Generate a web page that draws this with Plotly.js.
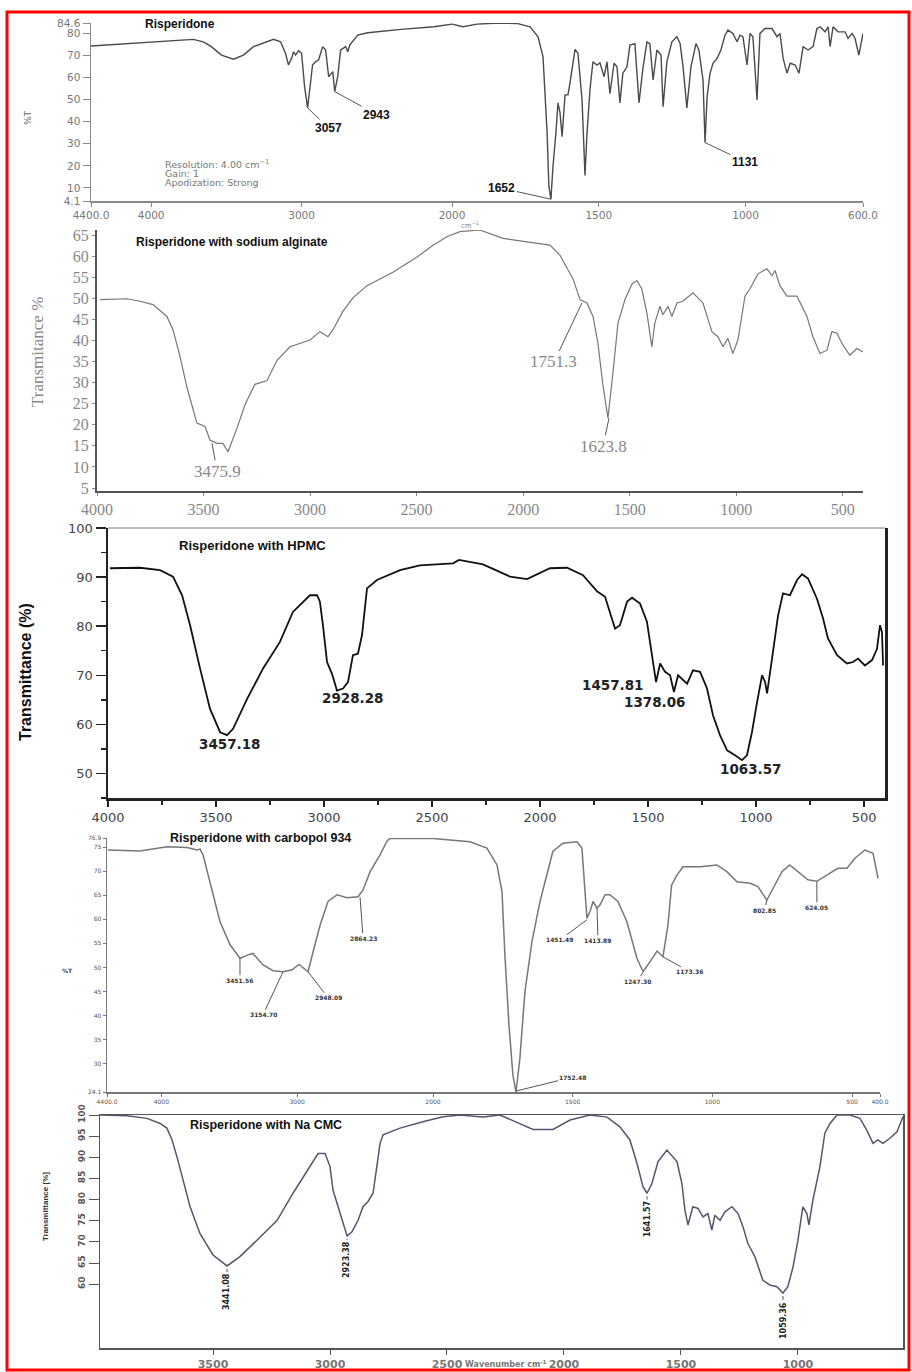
<!DOCTYPE html>
<html><head><meta charset="utf-8">
<script src="https://cdn.plot.ly/plotly-3.0.1.min.js"></script>
<style>html,body{margin:0;padding:0;background:#fff}#chart{width:912px;height:1372px}</style>
</head><body><div id="chart"></div>
<script>
// ---------- Panel 1: Risperidone ----------
const risWn = [4400,4000,3720,3653,3600,3533,3453,3387,3320,3187,3140,3107,3087,3067,3053,3040,3020,3000,2980,2960,2940,2927,2907,2887,2860,2840,2820,2793,2780,2760,2740,2707,2693,2680,2627,2560,2340,2120,2000,
1963,1915,1837,1779,1734,1707,1690,1676,1670,1663,1656,1646,1639,1632,1625,1615,1605,1598,1581,1571,1557,1547,1540,1530,1520,1506,1496,1482,1472,1462,1448,1438,1428,1418,1404,1394,1377,1363,1349,1336,1326,1315,1302,1288,1281,1268,1251,1234,1223,1213,1200,1186,1169,1159,1145,1138,1131,1121,1111,1097,1084,1070,1060,1043,1029,1019,1009,995,985,975,961,951,934,910,893,883,872,859,848,831,818,804,787,770,757,746,729,719,712,702,685,661,651,637,627,614,600];
const risT = [74.2,75.8,77.2,76.1,73.9,70.1,68.2,70.1,73.9,77.2,76.1,70.9,65.6,68.6,71.6,70.1,72.0,70.9,55.8,46.2,57.5,65.6,67.1,67.9,73.9,72.4,60.3,62.6,53.6,60.3,72.4,73.9,71.6,74.6,79.1,80.2,81.7,82.9,84.1,
82.9,84.1,84.6,84.4,82.9,78.4,69.4,35.0,10.7,4.9,19.8,35.0,48.5,44.0,33.2,52.1,52.1,57.5,72.7,70.9,49.8,15.6,35.0,54.4,67.1,65.6,66.6,60.3,67.1,52.6,66.4,64.8,48.5,61.9,64.8,74.6,75.3,48.5,64.8,76.1,75.3,58.9,72.4,70.1,46.7,67.1,76.1,78.4,75.3,64.8,46.2,64.8,75.3,72.4,58.9,30.5,51.3,61.9,66.4,68.6,72.4,79.1,81.4,79.9,76.1,79.1,78.4,65.6,79.9,78.4,49.8,79.9,82.1,82.1,78.4,79.9,68.6,61.9,66.4,65.6,61.9,73.9,72.4,73.9,82.1,82.9,80.6,82.9,73.9,82.9,80.6,80.6,77.6,79.9,77.6,70.1,79.9];
const risYTicks = [4.1,10,20,30,40,50,60,70,80,84.6];
const risYText = ['4.1','10','20','30','40','50','60','70','80','84.6'];
const risXHi = [4400,4000,3000,2000];
const risXHiText = ['4400.0','4000','3000','2000'];
const risXLo = [1500,1000,600];
const risXLoText = ['1500','1000','600.0'];

// ---------- Panel 2: with sodium alginate ----------
const algWn = [3985,3859,3798,3737,3672,3643,3610,3578,3531,3493,3470,3437,3409,3385,3343,3305,3259,3202,3155,3094,3000,2954,2916,2893,2846,2799,2733,2611,2498,2423,2358,2297,2203,2095,1982,1874,1827,1766,1733,1701,1672,1649,1626,1602,1579,1555,1522,1489,1466,1443,1419,1396,1382,1358,1344,1320,1302,1278,1250,1203,1156,1114,1086,1062,1039,1016,992,959,936,898,856,832,818,795,762,715,668,640,607,574,551,527,504,467,434,405];
const algT = [49.7,49.9,49.3,48.5,45.7,42.5,36.1,28.9,20.4,19.6,16.4,15.6,15.6,13.6,19.2,24.8,29.6,30.5,35.3,38.5,40.1,42.1,40.9,42.5,46.9,50.1,53.0,56.2,59.8,62.6,64.6,65.8,66.2,64.2,63.4,62.6,60.2,54.6,49.7,48.9,45.7,39.3,29.6,21.6,32.1,44.1,49.7,53.4,54.2,52.2,46.5,38.5,44.1,48.1,46.1,48.1,45.7,48.9,49.3,51.3,48.9,42.1,40.9,38.5,40.5,36.9,40.1,50.5,52.2,55.8,57.0,55.4,56.6,53.0,50.5,50.5,45.7,40.9,36.9,37.7,42.1,41.7,39.3,36.5,38.1,37.3];
const algYTicks = [5,10,15,20,25,30,35,40,45,50,55,60,65];
const algYText = ['5','10','15','20','25','30','35','40','45','50','55','60','65'];
const algXTicks = [4000,3500,3000,2500,2000,1500,1000,500];
const algXText = ['4000','3500','3000','2500','2000','1500','1000','500'];

// ---------- Panel 3: with HPMC ----------
const hpmcWn = [3991,3852,3759,3699,3657,3620,3574,3528,3481,3449,3421,3356,3282,3204,3144,3065,3032,3019,3005,2986,2963,2940,2912,2889,2866,2843,2824,2801,2755,2648,2556,2403,2375,2264,2139,2060,1954,1875,1801,1736,1699,1676,1653,1630,1597,1574,1537,1505,1481,1463,1444,1421,1398,1380,1361,1338,1319,1292,1259,1227,1199,1167,1134,1097,1065,1042,1019,995,972,958,949,926,898,875,843,810,787,759,718,690,667,625,579,551,528,496,463,440,426,417,412];
const hpmcT = [91.8,91.9,91.4,90.1,86.3,80.2,71.4,63.2,58.4,57.8,59.1,65.2,71.4,76.8,82.9,86.3,86.3,85.0,80.2,72.7,70.3,66.9,67.3,68.6,74.1,74.4,78.2,87.7,89.4,91.4,92.4,92.8,93.5,92.6,90.1,89.6,91.8,91.9,90.4,87.1,86.0,82.9,79.5,80.2,85.0,85.8,84.6,80.9,74.1,68.6,72.4,70.7,70.0,66.6,70.0,69.0,68.3,71.0,70.7,67.3,61.8,57.8,54.7,53.7,52.7,53.7,58.4,64.6,70.0,68.6,66.3,73.4,82.2,86.7,86.3,89.4,90.6,89.7,85.6,81.6,77.5,74.1,72.4,72.7,73.4,72.0,73.1,75.4,80.2,78.8,72.0];
const hpmcYTicks = [50,60,70,80,90,100];
const hpmcYText = ['50','60','70','80','90','100'];
const hpmcXTicks = [4000,3500,3000,2500,2000,1500,1000,500];
const hpmcXText = ['4000','3500','3000','2500','2000','1500','1000','500'];

// ---------- Panel 4: with carbopol 934 ----------
const carbWn = [4393,4157,3958,3811,3737,3715,3693,3656,3619,3568,3494,3421,3362,3325,3251,3178,3104,3038,2986,2942,2920,2883,2831,2773,2706,2633,2552,2515,2463,2390,2338,2316,2117,2000,
1939,1868,1807,1771,1753,1742,1728,1714,1703,1689,1671,1646,1617,1592,1571,1535,1485,1467,1456,1449,1438,1427,1413,1402,1384,1367,1338,1306,1270,1248,1223,1198,1177,1159,1146,1127,1105,1044,984,948,912,865,837,805,783,751,723,694,658,626,590,551,518,490,454,425,407];
const carbT = [74.4,74.2,75.1,74.9,74.4,74.6,73.4,69.2,65.1,59.5,54.7,51.9,52.6,52.9,50.5,49.3,49.1,49.5,50.6,49.5,49.1,53.2,58.8,63.7,65.1,64.5,64.7,66.1,69.9,73.4,76.3,76.8,76.8,76.8,
76.5,76.1,74.8,71.3,65.7,51.8,38.0,27.6,24.1,31.1,44.9,55.3,63.7,69.2,74.1,75.8,76.1,74.8,65.7,60.2,61.6,63.7,62.3,63.0,65.1,65.1,63.7,59.5,51.9,49.1,51.2,53.4,52.2,58.8,67.1,69.2,70.9,70.9,71.3,69.9,67.8,67.5,66.8,64.0,66.4,69.9,71.3,69.9,68.2,67.9,69.2,70.6,70.6,72.7,74.4,73.7,68.5];
const carbYTicks = [24.1,30,35,40,45,50,55,60,65,70,75,76.9];
const carbYText = ['24.1','30','35','40','45','50','55','60','65','70','75','76.9'];
const carbXHi = [4400,4000,3000,2000];
const carbXHiText = ['4400.0','4000','3000','2000'];
const carbXLo = [1500,1000,500,400];
const carbXLoText = ['1500','1000','500','400.0'];

// ---------- Panel 5: with Na CMC ----------
const cmcWn = [3983,3868,3782,3726,3697,3675,3654,3628,3598,3556,3500,3440,3385,3312,3226,3158,3098,3051,3021,3000,2987,2970,2949,2927,2906,2880,2859,2838,2816,2799,2786,2773,2701,2603,2517,2444,2346,2274,2132,2047,1974,1889,1816,1761,1718,1688,1662,1645,1624,1598,1560,1517,1496,1483,1470,1449,1427,1406,1385,1368,1355,1333,1312,1282,1256,1235,1214,1184,1150,1120,1090,1064,1043,1021,1000,979,962,953,936,906,885,863,833,778,735,706,679,658,637,607,577,551];
const cmcT = [100,99.8,99.2,98.0,96.9,94.1,90.1,84.6,78.3,72.0,66.9,64.3,66.5,70.4,75.1,81.5,86.6,90.9,90.9,87.8,82.2,79.1,75.1,71.4,72.4,75.1,78.3,79.5,81.5,87.8,93.3,95.3,96.9,98.4,99.6,100,99.5,100,96.6,96.6,98.8,100,99.5,97.2,94.1,88.6,83.0,81.5,83.8,89.0,91.7,89.0,83.8,77.5,74.0,78.3,77.9,75.9,76.7,72.8,76.3,75.1,77.1,78.3,76.7,73.6,69.6,66.5,60.9,59.8,59.4,57.9,59.4,64.1,70.4,78.3,76.7,74.0,79.9,87.8,95.7,98.0,100,100,99.2,96.4,93.3,94.1,93.3,94.5,96.0,99.6];
const cmcYTicks = [60,65,70,75,80,85,90,95,100];
const cmcYText = ['60','65','70','75','80','85','90','95','100'];
const cmcXTicks = [3500,3000,2500,2000,1500,1000];
const cmcXText = ['3500','3000','2500','2000','1500','1000'];

// ---------- helpers ----------
const W = 912, H = 1372;
const px = v => v / W, py = v => 1 - v / H;
const dom = (a, b) => [a / W, b / W];
const vdom = (top, bottom) => [1 - bottom / H, 1 - top / H];
function part(wn, t, lo, hi) {
  const x = [], y = [];
  wn.forEach((w, i) => { if (w >= lo && w <= hi) { x.push(w); y.push(t[i]); } });
  return { x, y };
}
function ax(o) {
  return Object.assign({ showgrid: false, zeroline: false, showline: true, ticks: 'outside',
    fixedrange: true, tickmode: 'array' }, o);
}
function line(xa, ya, d, color, width) {
  return { type: 'scatter', mode: 'lines', x: d.x, y: d.y, xaxis: xa, yaxis: ya,
    line: { color: color, width: width }, hoverinfo: 'skip' };
}

const r1a = part(risWn, risT, 2000, 5000), r1b = part(risWn, risT, 0, 2000);
const c4a = part(carbWn, carbT, 2000, 5000), c4b = part(carbWn, carbT, 0, 2000);

const traces = [
  line('x', 'y', r1a, '#4a4a4a', 1.4),
  line('x2', 'y', r1b, '#4a4a4a', 1.4),
  line('x3', 'y3', { x: algWn, y: algT }, '#777', 1.2),
  line('x4', 'y4', { x: hpmcWn, y: hpmcT }, '#111', 1.8),
  line('x5', 'y5', c4a, '#777', 1.5),
  line('x6', 'y5', c4b, '#777', 1.5),
  line('x7', 'y7', { x: cmcWn, y: cmcT }, '#55566e', 1.5)
];

const f1 = { family: 'DejaVu Sans', size: 10.5, color: '#777' };
const f2 = { family: 'Liberation Serif', size: 16, color: '#888' };
const f3 = { family: 'DejaVu Sans', size: 13, color: '#444' };
const f4 = { family: 'DejaVu Sans', size: 6, color: '#555' };
const f5 = { family: 'DejaVu Sans', size: 11, color: '#777', weight: 'bold' };

const layout = {
  width: W, height: H, margin: { l: 0, r: 0, t: 0, b: 0 },
  paper_bgcolor: '#fff', plot_bgcolor: 'rgba(0,0,0,0)', showlegend: false, hovermode: false,
  // panel 1
  xaxis: ax({ domain: dom(91, 452), range: [4400, 2000], anchor: 'y', tickvals: risXHi, ticktext: risXHiText,
    linecolor: '#888', linewidth: 1.5, tickcolor: '#888', ticklen: 4, tickfont: f1 }),
  xaxis2: ax({ domain: dom(452, 863), range: [2000, 600], anchor: 'y', tickvals: risXLo, ticktext: risXLoText,
    linecolor: '#888', linewidth: 1.5, tickcolor: '#888', ticklen: 4, tickfont: f1 }),
  yaxis: ax({ domain: vdom(23, 201), range: [4.1, 84.6], anchor: 'x', tickvals: risYTicks, ticktext: risYText,
    linecolor: '#888', linewidth: 1.5, tickcolor: '#888', ticklen: 7, tickfont: f1 }),
  // panel 2
  xaxis3: ax({ domain: dom(97, 863), range: [4000, 405], anchor: 'y3', tickvals: algXTicks, ticktext: algXText,
    linecolor: '#555', linewidth: 2, tickcolor: '#888', ticklen: 3, tickfont: f2 }),
  yaxis3: ax({ domain: vdom(230, 491), range: [4.3, 66.2], anchor: 'x3', tickvals: algYTicks, ticktext: algYText,
    linecolor: '#555', linewidth: 2, tickcolor: '#888', ticklen: 3, tickfont: f2 }),
  // panel 3
  xaxis4: ax({ domain: dom(108, 885), range: [4000, 403], anchor: 'y4', tickvals: hpmcXTicks, ticktext: hpmcXText,
    linecolor: '#222', linewidth: 2.5, tickcolor: '#222', ticklen: 6, tickwidth: 1.5, tickfont: f3,
    minor: { dtick: 250, tick0: 0, ticklen: 4, tickcolor: '#222', ticks: 'outside' } }),
  yaxis4: ax({ domain: vdom(528, 798), range: [45, 100], anchor: 'x4', tickvals: hpmcYTicks, ticktext: hpmcYText,
    linecolor: '#222', linewidth: 2.5, mirror: true, tickcolor: '#222', ticklen: 10, tickwidth: 1.5, tickfont: f3,
    minor: { dtick: 5, tick0: 0, ticklen: 5, tickcolor: '#222', ticks: 'outside' } }),
  // panel 4
  xaxis5: ax({ domain: dom(107, 433), range: [4400, 2000], anchor: 'y5', tickvals: carbXHi, ticktext: carbXHiText,
    linecolor: '#777', linewidth: 1.5, tickcolor: '#777', ticklen: 3, tickfont: f4 }),
  xaxis6: ax({ domain: dom(433, 880), range: [2000, 400], anchor: 'y5', tickvals: carbXLo, ticktext: carbXLoText,
    linecolor: '#777', linewidth: 1.5, tickcolor: '#777', ticklen: 3, tickfont: f4 }),
  yaxis5: ax({ domain: vdom(838, 1092), range: [24.1, 76.9], anchor: 'x5', tickvals: carbYTicks, ticktext: carbYText,
    linecolor: '#777', linewidth: 1.5, tickcolor: '#777', ticklen: 3, tickfont: f4 }),
  // panel 5
  xaxis7: ax({ domain: dom(100, 903), range: [3983, 551], anchor: 'y7', tickvals: cmcXTicks, ticktext: cmcXText,
    linecolor: '#555', linewidth: 1.5, mirror: true, tickcolor: '#555', ticklen: 5, tickfont: f5 }),
  yaxis7: ax({ domain: vdom(1115, 1348), range: [44.9, 100], anchor: 'x7', tickvals: cmcYTicks, ticktext: cmcYText,
    linecolor: '#555', linewidth: 1.5, mirror: true, tickcolor: '#555', ticklen: 10, tickangle: -90,
    tickfont: { family: 'DejaVu Sans', size: 9, color: '#555', weight: 'bold' } }),
  shapes: [
    { type: 'line', xref: 'x4 domain', yref: 'y4 domain', x0: 0, x1: 1, y0: 1, y1: 1, line: { color: '#777', width: 1 } },
    { type: 'rect', xref: 'paper', yref: 'paper', x0: px(7), x1: px(909), y0: py(1370), y1: py(12),
      line: { color: '#ff0000', width: 3 } }
  ],
  annotations: []
};

const A = layout.annotations;
function title(text, x, y, size) {
  A.push({ text: '<b>' + text + '</b>', xref: 'paper', yref: 'paper', x: px(x), y: py(y), xanchor: 'left',
    yanchor: 'middle', showarrow: false, font: { family: 'Liberation Sans', size: size, color: '#111' } });
}
function note(text, x, y, font, angle, xanchor) {
  A.push({ text: text, xref: 'paper', yref: 'paper', x: px(x), y: py(y), xanchor: xanchor || 'center',
    yanchor: 'middle', showarrow: false, textangle: angle || 0, font: font });
}
function peak(text, xr, yr, x, y, axp, ayp, font, angle, standoff) {
  A.push({ text: text, xref: xr, yref: yr, x: x, y: y, ax: axp, ay: ayp, showarrow: true, arrowhead: 0,
    arrowwidth: 1, arrowcolor: '#555', standoff: standoff || 0, textangle: angle || 0, font: font });
}
function label(text, xr, yr, x, y, font) {
  A.push({ text: text, xref: xr, yref: yr, x: x, y: y, showarrow: false, font: font });
}

// titles
title('Risperidone', 143, 24, 12);
title('Risperidone with sodium alginate', 134, 242, 12);
title('Risperidone with HPMC', 177, 545, 13);
title('Risperidone with carbopol 934', 168, 838, 12.5);
title('Risperidone with Na CMC', 188, 1125, 12.5);

// panel 1 texts
const g1 = { family: 'DejaVu Sans', size: 9.5, color: '#777' };
note('Resolution: 4.00 cm<sup>−1</sup>', 163, 164, g1, 0, 'left');
note('Gain: 1', 163, 173, g1, 0, 'left');
note('Apodization: Strong', 163, 182, g1, 0, 'left');
note('%T', 28, 118, { family: 'DejaVu Sans', size: 9, color: '#666' }, -90);
note('cm<sup>−1</sup>', 470, 225, { family: 'DejaVu Sans', size: 7, color: '#888' });
const p1 = { family: 'Liberation Sans', size: 12, color: '#111', weight: 'bold' };
peak('<b>3057</b>', 'x', 'y', 2960, 46.2, 21, 20, p1);
peak('<b>2943</b>', 'x', 'y', 2780, 53.6, 42, 23, p1);
peak('<b>1131</b>', 'x2', 'y', 1138, 30.5, 40, 19, p1);
peak('<b>1652</b>', 'x2', 'y', 1663, 4.9, -49, -11, p1);

// panel 2 texts
note('Transmitance %', 37, 352, { family: 'Liberation Serif', size: 17, color: '#888' }, -90);
const p2 = { family: 'Liberation Serif', size: 17, color: '#888' };
peak('3475.9', 'x3', 'y3', 3460, 15.6, 5, 28, p2);
peak('1751.3', 'x3', 'y3', 1724, 48.9, -28, 59, p2);
peak('1623.8', 'x3', 'y3', 1597, 21.6, -6, 28, p2);

// panel 3 texts
note('<b>Transmittance (%)</b>', 25, 672, { family: 'Liberation Sans Narrow, Liberation Sans', size: 16, color: '#111' }, -90);
const p3 = { family: 'DejaVu Sans', size: 13.5, color: '#222' };
label('<b>3457.18</b>', 'x4', 'y4', 3435, 55.9, p3);
label('<b>2928.28</b>', 'x4', 'y4', 2866, 65.3, p3);
label('<b>1457.81</b>', 'x4', 'y4', 1662, 68.0, p3);
label('<b>1378.06</b>', 'x4', 'y4', 1468, 64.6, p3);
label('<b>1063.57</b>', 'x4', 'y4', 1023, 51.0, p3);

// panel 4 texts
note('<b>%T</b>', 67, 970, { family: 'DejaVu Sans', size: 6, color: '#444' });
const p4 = { family: 'DejaVu Sans', size: 6, color: '#333' };
peak('<b>3451.56</b>', 'x5', 'y5', 3421, 51.9, 0, 22, p4);
peak('<b>3154.70</b>', 'x5', 'y5', 3104, 49.1, -20, 43, p4);
peak('<b>2948.09</b>', 'x5', 'y5', 2920, 49.1, 20, 26, p4);
peak('<b>2864.23</b>', 'x5', 'y5', 2537, 64.6, 3, 41, p4);
peak('<b>1752.48</b>', 'x6', 'y5', 1703, 24.3, 57, -14, p4);
peak('<b>1451.49</b>', 'x6', 'y5', 1449, 59.9, -27, 20, p4);
peak('<b>1413.89</b>', 'x6', 'y5', 1413, 62.3, 1, 32, p4);
peak('<b>1247.30</b>', 'x6', 'y5', 1248, 49.0, -6, 9, p4);
peak('<b>1173.36</b>', 'x6', 'y5', 1177, 52.2, 27, 15, p4);
peak('<b>802.85</b>', 'x6', 'y5', 805, 64.0, -2, 10, p4);
peak('<b>624.05</b>', 'x6', 'y5', 626, 67.9, 0, 26, p4);

// panel 5 texts
note('<b>Transmittance [%]</b>', 45, 1207, { family: 'Liberation Sans', size: 8, color: '#333' }, -90);
note('<b>Wavenumber cm<sup>-1</sup></b>', 506, 1364, { family: 'DejaVu Sans', size: 8, color: '#777' });
const p5 = { family: 'DejaVu Sans', size: 8, color: '#222' };
peak('<b>3441.08</b>', 'x7', 'y7', 3440, 64.3, 0, 26, p5, -90, 3);
peak('<b>2923.38</b>', 'x7', 'y7', 2927, 71.4, 0, 24, p5, -90, 3);
peak('<b>1641.57</b>', 'x7', 'y7', 1645, 81.5, 0, 26, p5, -90, 3);
peak('<b>1059.36</b>', 'x7', 'y7', 1064, 57.9, 0, 27, p5, -90, 3);

Plotly.newPlot('chart', traces, layout, { staticPlot: true, displayModeBar: false });
</script></body></html>
